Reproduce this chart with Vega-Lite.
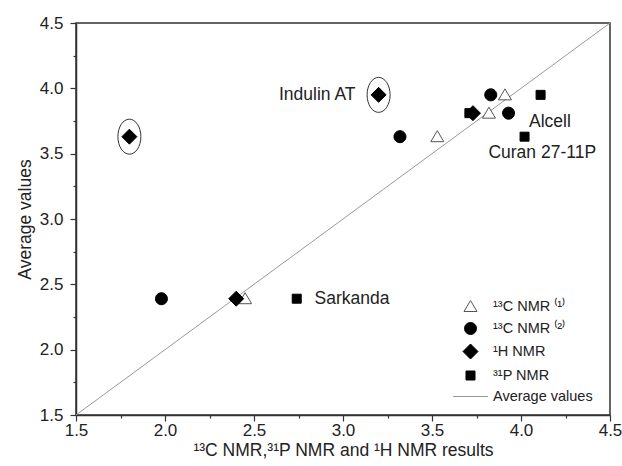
{
  "$schema": "https://vega.github.io/schema/vega-lite/v6.json",
  "width": 534,
  "height": 392,
  "autosize": "none",
  "padding": {"left": 76, "top": 23, "right": 12, "bottom": 51},
  "background": "white",
  "config": {
    "view": {"stroke": "#333", "strokeWidth": 1.5},
    "font": "Liberation Sans",
    "axis": {
      "grid": false,
      "domainColor": "#333",
      "domainWidth": 1.5,
      "tickColor": "#333",
      "tickWidth": 1.2,
      "labelFont": "Liberation Sans",
      "labelFontSize": 17,
      "labelColor": "#222",
      "labelFlush": false,
      "labelOverlap": false,
      "titleFont": "Liberation Sans",
      "titleFontSize": 17.5,
      "titleFontWeight": "normal",
      "titleColor": "#222"
    }
  },
  "datasets": {
    "points": [
      {"sample": "Indulin AT", "series": "¹³C NMR ⁽¹⁾", "x": 3.91, "y": 3.95},
      {"sample": "Alcell", "series": "¹³C NMR ⁽¹⁾", "x": 3.82, "y": 3.81},
      {"sample": "Curan 27-11P", "series": "¹³C NMR ⁽¹⁾", "x": 3.53, "y": 3.63},
      {"sample": "Sarkanda", "series": "¹³C NMR ⁽¹⁾", "x": 2.45, "y": 2.39},
      {"sample": "Indulin AT", "series": "³¹P NMR", "x": 4.11, "y": 3.95},
      {"sample": "Alcell", "series": "³¹P NMR", "x": 3.71, "y": 3.81},
      {"sample": "Curan 27-11P", "series": "³¹P NMR", "x": 4.02, "y": 3.63},
      {"sample": "Sarkanda", "series": "³¹P NMR", "x": 2.74, "y": 2.39},
      {"sample": "Indulin AT", "series": "¹³C NMR ⁽²⁾", "x": 3.83, "y": 3.95},
      {"sample": "Alcell", "series": "¹³C NMR ⁽²⁾", "x": 3.93, "y": 3.81},
      {"sample": "Curan 27-11P", "series": "¹³C NMR ⁽²⁾", "x": 3.32, "y": 3.63},
      {"sample": "Sarkanda", "series": "¹³C NMR ⁽²⁾", "x": 1.98, "y": 2.39},
      {"sample": "Indulin AT", "series": "¹H NMR", "x": 3.2, "y": 3.95},
      {"sample": "Alcell", "series": "¹H NMR", "x": 3.73, "y": 3.81},
      {"sample": "Curan 27-11P", "series": "¹H NMR", "x": 1.8, "y": 3.63},
      {"sample": "Sarkanda", "series": "¹H NMR", "x": 2.4, "y": 2.39}
    ],
    "circled": [
      {"sample": "Indulin AT", "x": 3.2, "y": 3.95},
      {"sample": "Curan 27-11P", "x": 1.8, "y": 3.63}
    ],
    "diag": [
      {"x": 1.5, "y": 1.5},
      {"x": 4.5, "y": 4.5}
    ],
    "labels": [
      {"sample": "Indulin AT", "x": 3.07, "y": 3.95},
      {"sample": "Alcell", "x": 4.045, "y": 3.745},
      {"sample": "Curan 27-11P", "x": 3.817, "y": 3.505},
      {"sample": "Sarkanda", "x": 2.84, "y": 2.39}
    ]
  },
  "encoding": {
    "x": {
      "field": "x",
      "type": "quantitative",
      "scale": {"domain": [1.5, 4.5], "nice": false, "zero": false},
      "axis": {
        "title": "¹³C NMR,³¹P NMR and ¹H NMR results",
        "values": [1.5, 1.75, 2.0, 2.25, 2.5, 2.75, 3.0, 3.25, 3.5, 3.75, 4.0, 4.25, 4.5],
        "labelExpr": "datum.value * 2 % 1 == 0 ? format(datum.value, '.1f') : ''",
        "tickSize": {"condition": {"test": "datum.value * 2 % 1 == 0", "value": 6}, "value": 3},
        "labelPadding": 1,
        "titlePadding": 3
      }
    },
    "y": {
      "field": "y",
      "type": "quantitative",
      "scale": {"domain": [1.5, 4.5], "nice": false, "zero": false},
      "axis": {
        "title": "Average values",
        "values": [1.5, 1.75, 2.0, 2.25, 2.5, 2.75, 3.0, 3.25, 3.5, 3.75, 4.0, 4.25, 4.5],
        "labelExpr": "datum.value * 2 % 1 == 0 ? format(datum.value, '.1f') : ''",
        "tickSize": {"condition": {"test": "datum.value * 2 % 1 == 0", "value": 6}, "value": 3},
        "labelPadding": 7,
        "titlePadding": 5
      }
    }
  },
  "layer": [
    {
      "data": {"name": "diag"},
      "mark": {"type": "line", "color": "#999", "strokeWidth": 1},
      "encoding": {}
    },
    {
      "data": {"name": "circled"},
      "mark": {
        "type": "point",
        "shape": "M -1.15 0 A 1.15 1.75 0 1 0 1.15 0 A 1.15 1.75 0 1 0 -1.15 0 Z",
        "size": 400,
        "filled": false,
        "stroke": "#333",
        "strokeWidth": 1,
        "opacity": 1
      },
      "encoding": {}
    },
    {
      "data": {"name": "points"},
      "mark": {"type": "point", "size": 400, "opacity": 1, "strokeWidth": 1},
      "encoding": {
        "shape": {
          "field": "series",
          "type": "nominal",
          "scale": {
            "domain": ["¹³C NMR ⁽¹⁾", "¹³C NMR ⁽²⁾", "¹H NMR", "³¹P NMR", "Average values"],
            "range": [
              "M -0.65 0.5 L 0 -0.6 L 0.65 0.5 Z",
              "M -0.6 0 A 0.6 0.6 0 1 0 0.6 0 A 0.6 0.6 0 1 0 -0.6 0 Z",
              "M -0.75 0 L 0 -0.75 L 0.75 0 L 0 0.75 Z",
              "M -0.45 -0.45 L 0.45 -0.45 L 0.45 0.45 L -0.45 0.45 Z",
              "M -1.75 0 L 1.75 0"
            ]
          },
          "legend": {
            "title": null,
            "orient": "none",
            "legendX": 384,
            "legendY": 273,
            "padding": 0,
            "symbolSize": 400,
            "symbolStrokeWidth": 1,
            "symbolOpacity": 1,
            "labelFont": "Liberation Sans",
            "labelFontSize": 14.5,
            "labelColor": "#222",
            "rowPadding": 4,
            "labelOffset": 12
          }
        },
        "fill": {
          "field": "series",
          "type": "nominal",
          "scale": {
            "domain": ["¹³C NMR ⁽¹⁾", "¹³C NMR ⁽²⁾", "¹H NMR", "³¹P NMR", "Average values"],
            "range": ["white", "black", "black", "black", "transparent"]
          },
          "legend": {
            "title": null,
            "orient": "none",
            "legendX": 384,
            "legendY": 273,
            "padding": 0,
            "symbolSize": 400,
            "symbolStrokeWidth": 1,
            "symbolOpacity": 1,
            "labelFont": "Liberation Sans",
            "labelFontSize": 14.5,
            "labelColor": "#222",
            "rowPadding": 4,
            "labelOffset": 12
          }
        },
        "stroke": {
          "field": "series",
          "type": "nominal",
          "scale": {
            "domain": ["¹³C NMR ⁽¹⁾", "¹³C NMR ⁽²⁾", "¹H NMR", "³¹P NMR", "Average values"],
            "range": ["#555", "black", "black", "black", "#999"]
          },
          "legend": {
            "title": null,
            "orient": "none",
            "legendX": 384,
            "legendY": 273,
            "padding": 0,
            "symbolSize": 400,
            "symbolStrokeWidth": 1,
            "symbolOpacity": 1,
            "labelFont": "Liberation Sans",
            "labelFontSize": 14.5,
            "labelColor": "#222",
            "rowPadding": 4,
            "labelOffset": 12
          }
        }
      }
    },
    {
      "data": {"name": "labels"},
      "transform": [{"filter": "datum.sample == 'Indulin AT'"}],
      "mark": {"type": "text", "align": "right", "baseline": "middle", "fontSize": 17.5, "font": "Liberation Sans", "color": "#222"},
      "encoding": {"text": {"field": "sample", "type": "nominal"}}
    },
    {
      "data": {"name": "labels"},
      "transform": [{"filter": "datum.sample != 'Indulin AT'"}],
      "mark": {"type": "text", "align": "left", "baseline": "middle", "fontSize": 17.5, "font": "Liberation Sans", "color": "#222"},
      "encoding": {"text": {"field": "sample", "type": "nominal"}}
    }
  ]
}
